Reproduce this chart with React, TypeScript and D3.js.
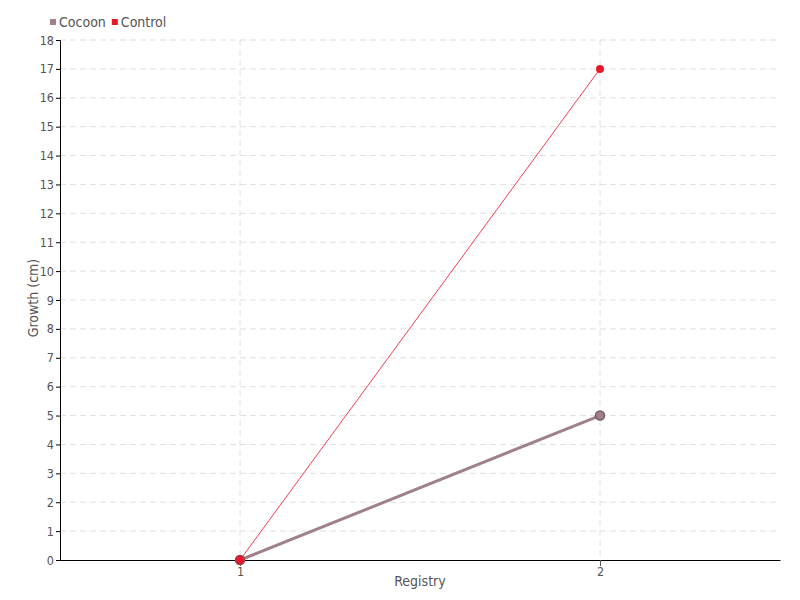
import React, { useEffect, useRef } from "react";
import * as d3 from "d3";

const categories = [1, 2];
const cocoon = [0, 5];
const control = [0, 17];
const yTicks = d3.range(0, 19);
const seriesNames = ["Cocoon", "Control"];
const seriesColors = ["#a0808a", "#e8192c"];

const W = 800, H = 600;
const M = { left: 60, right: 20, top: 40, bottom: 40 };
const FONT = "'DejaVu Sans Condensed', 'DejaVu Sans', sans-serif";

export default function App() {
  const ref = useRef<SVGSVGElement>(null);
  useEffect(() => {
    const svg = d3.select(ref.current);
    svg.selectAll("*").remove();
    const x = d3.scaleLinear().domain([0.5, 2.5]).range([M.left, W - M.right]);
    const y = d3.scaleLinear().domain([0, 18]).range([H - M.bottom, M.top]);
    const g = svg.append("g");

    const styleText = (sel: any) => sel.attr("font-family", FONT).attr("font-size", 12.5)
      .style("font-stretch", "condensed").attr("fill", "#555");

    // grid
    g.selectAll("line.hg").data(yTicks.slice(1)).enter().append("line")
      .attr("x1", M.left).attr("x2", W - M.right)
      .attr("y1", d => y(d)).attr("y2", d => y(d))
      .attr("stroke", "#e0e0e0").attr("stroke-dasharray", "6,4");
    g.selectAll("line.vg").data(categories).enter().append("line")
      .attr("x1", d => x(d)).attr("x2", d => x(d))
      .attr("y1", M.top).attr("y2", H - M.bottom)
      .attr("stroke", "#e0e0e0").attr("stroke-dasharray", "6,4");

    // axes
    const yAxis = g.append("g").attr("transform", `translate(${M.left},0)`)
      .call(d3.axisLeft(y).tickValues(yTicks).tickSize(4).tickPadding(2).tickFormat(d3.format("d")));
    yAxis.select(".domain").attr("stroke", "#000");
    styleText(yAxis.selectAll("text"));
    const xAxis = g.append("g").attr("transform", `translate(0,${H - M.bottom})`)
      .call(d3.axisBottom(x).tickValues(categories).tickSize(6).tickPadding(1).tickFormat(d3.format("d")).tickSizeOuter(0));
    xAxis.select(".domain").attr("stroke", "#000");
    xAxis.selectAll(".tick line").attr("stroke", "#555");
    styleText(xAxis.selectAll("text"));

    // labels
    styleText(g.append("text").attr("x", (M.left + W - M.right) / 2).attr("y", 586)
      .attr("text-anchor", "middle")).attr("font-size", 14).text("Registry");
    styleText(g.append("text").attr("transform", `translate(38,${(M.top + H - M.bottom) / 2 - 2}) rotate(-90)`)
      .attr("text-anchor", "middle")).attr("font-size", 14).text("Growth (cm)");

    const line = d3.line<number>().x((_, i) => x(categories[i])).y(d => y(d));
    // cocoon
    g.append("path").datum(cocoon).attr("d", line).attr("fill", "none")
      .attr("stroke", seriesColors[0]).attr("stroke-width", 3);
    g.selectAll("circle.c").data(cocoon).enter().append("circle")
      .attr("cx", (_, i) => x(categories[i])).attr("cy", d => y(d)).attr("r", 4.5)
      .attr("fill", seriesColors[0]).attr("stroke", "#7a5a64").attr("stroke-width", 1.5);
    // control
    g.append("path").datum(control).attr("d", line).attr("fill", "none")
      .attr("stroke", "#f04050").attr("stroke-width", 1);
    g.selectAll("circle.r").data(control).enter().append("circle")
      .attr("cx", (_, i) => x(categories[i])).attr("cy", d => y(d)).attr("r", (_, i) => i === 0 ? 4.5 : 4)
      .attr("fill", seriesColors[1]).attr("stroke", (_, i) => i === 0 ? "#a04050" : "none").attr("stroke-width", 1);

    // legend
    const leg = g.append("g").attr("transform", "translate(50,22)");
    let ox = 0;
    seriesNames.forEach((n, i) => {
      leg.append("rect").attr("x", ox).attr("y", -3).attr("width", 6).attr("height", 6).attr("fill", seriesColors[i]);
      const t = styleText(leg.append("text").attr("x", ox + 9).attr("y", 5)).attr("font-size", 14).text(n);
      const w = (t.node() as SVGTextElement).getComputedTextLength();
      ox += 9 + w + 6;
    });
  }, []);
  return <svg ref={ref} width={W} height={H} style={{ position: "absolute", left: 0, top: 0 }} />;
}
